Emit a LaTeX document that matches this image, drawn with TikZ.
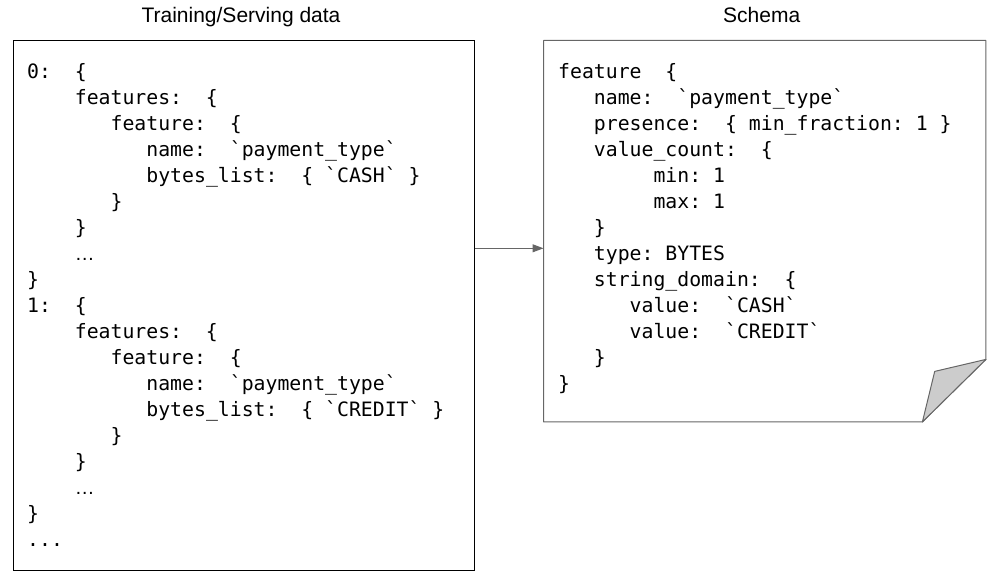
\documentclass[tikz,border=0pt]{standalone}
\usepackage{fontspec}
\setsansfont{Liberation Sans}
\setmonofont{DejaVu Sans Mono}
\usetikzlibrary{arrows.meta}
\definecolor{docgray}{HTML}{666666}
\definecolor{foldgray}{HTML}{CCCCCC}

\begin{document}
\begin{tikzpicture}[x=1pt, y=-1pt,
    box/.style={draw=black, line width=1pt, anchor=north west, inner sep=0pt},
    docline/.style={draw=docgray, line width=1pt, line join=round},
    code/.style={font=\ttfamily\fontsize{19.8}{26}\selectfont, align=left, anchor=north west, inner sep=0pt},
    title/.style={font=\sffamily\fontsize{21}{25}\selectfont, anchor=base},
    flow/.style={docgray, line width=1pt, -{Triangle[length=11pt, width=8pt]}}]
    \useasboundingbox (0,0) rectangle (992,575);

    % 左の箱（学習・推論データ）
    \node[box, minimum width=461pt, minimum height=529.5pt] (data) at (12.5,40.5) {};
    \node[title] (datatitle) at ([xshift=-2.5pt, yshift=17.5pt]data.north) {Training/Serving data};
    \node[code] (datatext) at ([shift={(14.5pt,-19.5pt)}]data.north west) {%
        \rule{0pt}{18pt}0:~~\{\\
        ~~~~features:~~\{\\
        ~~~~~~~feature:~~\{\\
        ~~~~~~~~~~name:~~`payment\_type`\\
        ~~~~~~~~~~bytes\_list:~~\{~`CASH`~\}\\
        ~~~~~~~\}\\
        ~~~~\}\\
        ~~~~{\sffamily …}\\
        \}\\
        1:~~\{\\
        ~~~~features:~~\{\\
        ~~~~~~~feature:~~\{\\
        ~~~~~~~~~~name:~~`payment\_type`\\
        ~~~~~~~~~~bytes\_list:~~\{~`CREDIT`~\}\\
        ~~~~~~~\}\\
        ~~~~\}\\
        ~~~~{\sffamily …}\\
        \}\\
        ...};

    % 右の文書（スキーマ）
    \node[anchor=north west, minimum width=442pt, minimum height=381pt, inner sep=0pt] (schema) at (543.5,40.5) {};
    \draw[docline] (schema.south west) -- (schema.north west) -- (schema.north east)
        -- ([yshift=62.5pt]schema.south east) -- ([xshift=-63.5pt]schema.south east) -- cycle;
    % 折り返した角
    \draw[docline, fill=foldgray] ([yshift=62.5pt]schema.south east)
        -- ([xshift=-51.2pt, yshift=50.5pt]schema.south east)
        -- ([xshift=-63.5pt]schema.south east) -- cycle;
    \node[title] (schematitle) at ([xshift=-3pt, yshift=18pt]schema.north) {Schema};
    \node[code] (schematext) at ([shift={(14.5pt,-19.5pt)}]schema.north west) {%
        \rule{0pt}{18pt}feature~~\{\\
        ~~~name:~~`payment\_type`\\
        ~~~presence:~~\{~min\_fraction:~1~\}\\
        ~~~value\_count:~~\{\\
        ~~~~~~~~min:~1\\
        ~~~~~~~~max:~1\\
        ~~~\}\\
        ~~~type:~BYTES\\
        ~~~string\_domain:~~\{\\
        ~~~~~~value:~~`CASH`\\
        ~~~~~~value:~~`CREDIT`\\
        ~~~\}\\
        \}};

    % データからスキーマへ
    \coordinate (mid) at (0,248.3);
    \draw[flow] (data.east |- mid) -- (schema.west |- mid);
\end{tikzpicture}
\end{document}
